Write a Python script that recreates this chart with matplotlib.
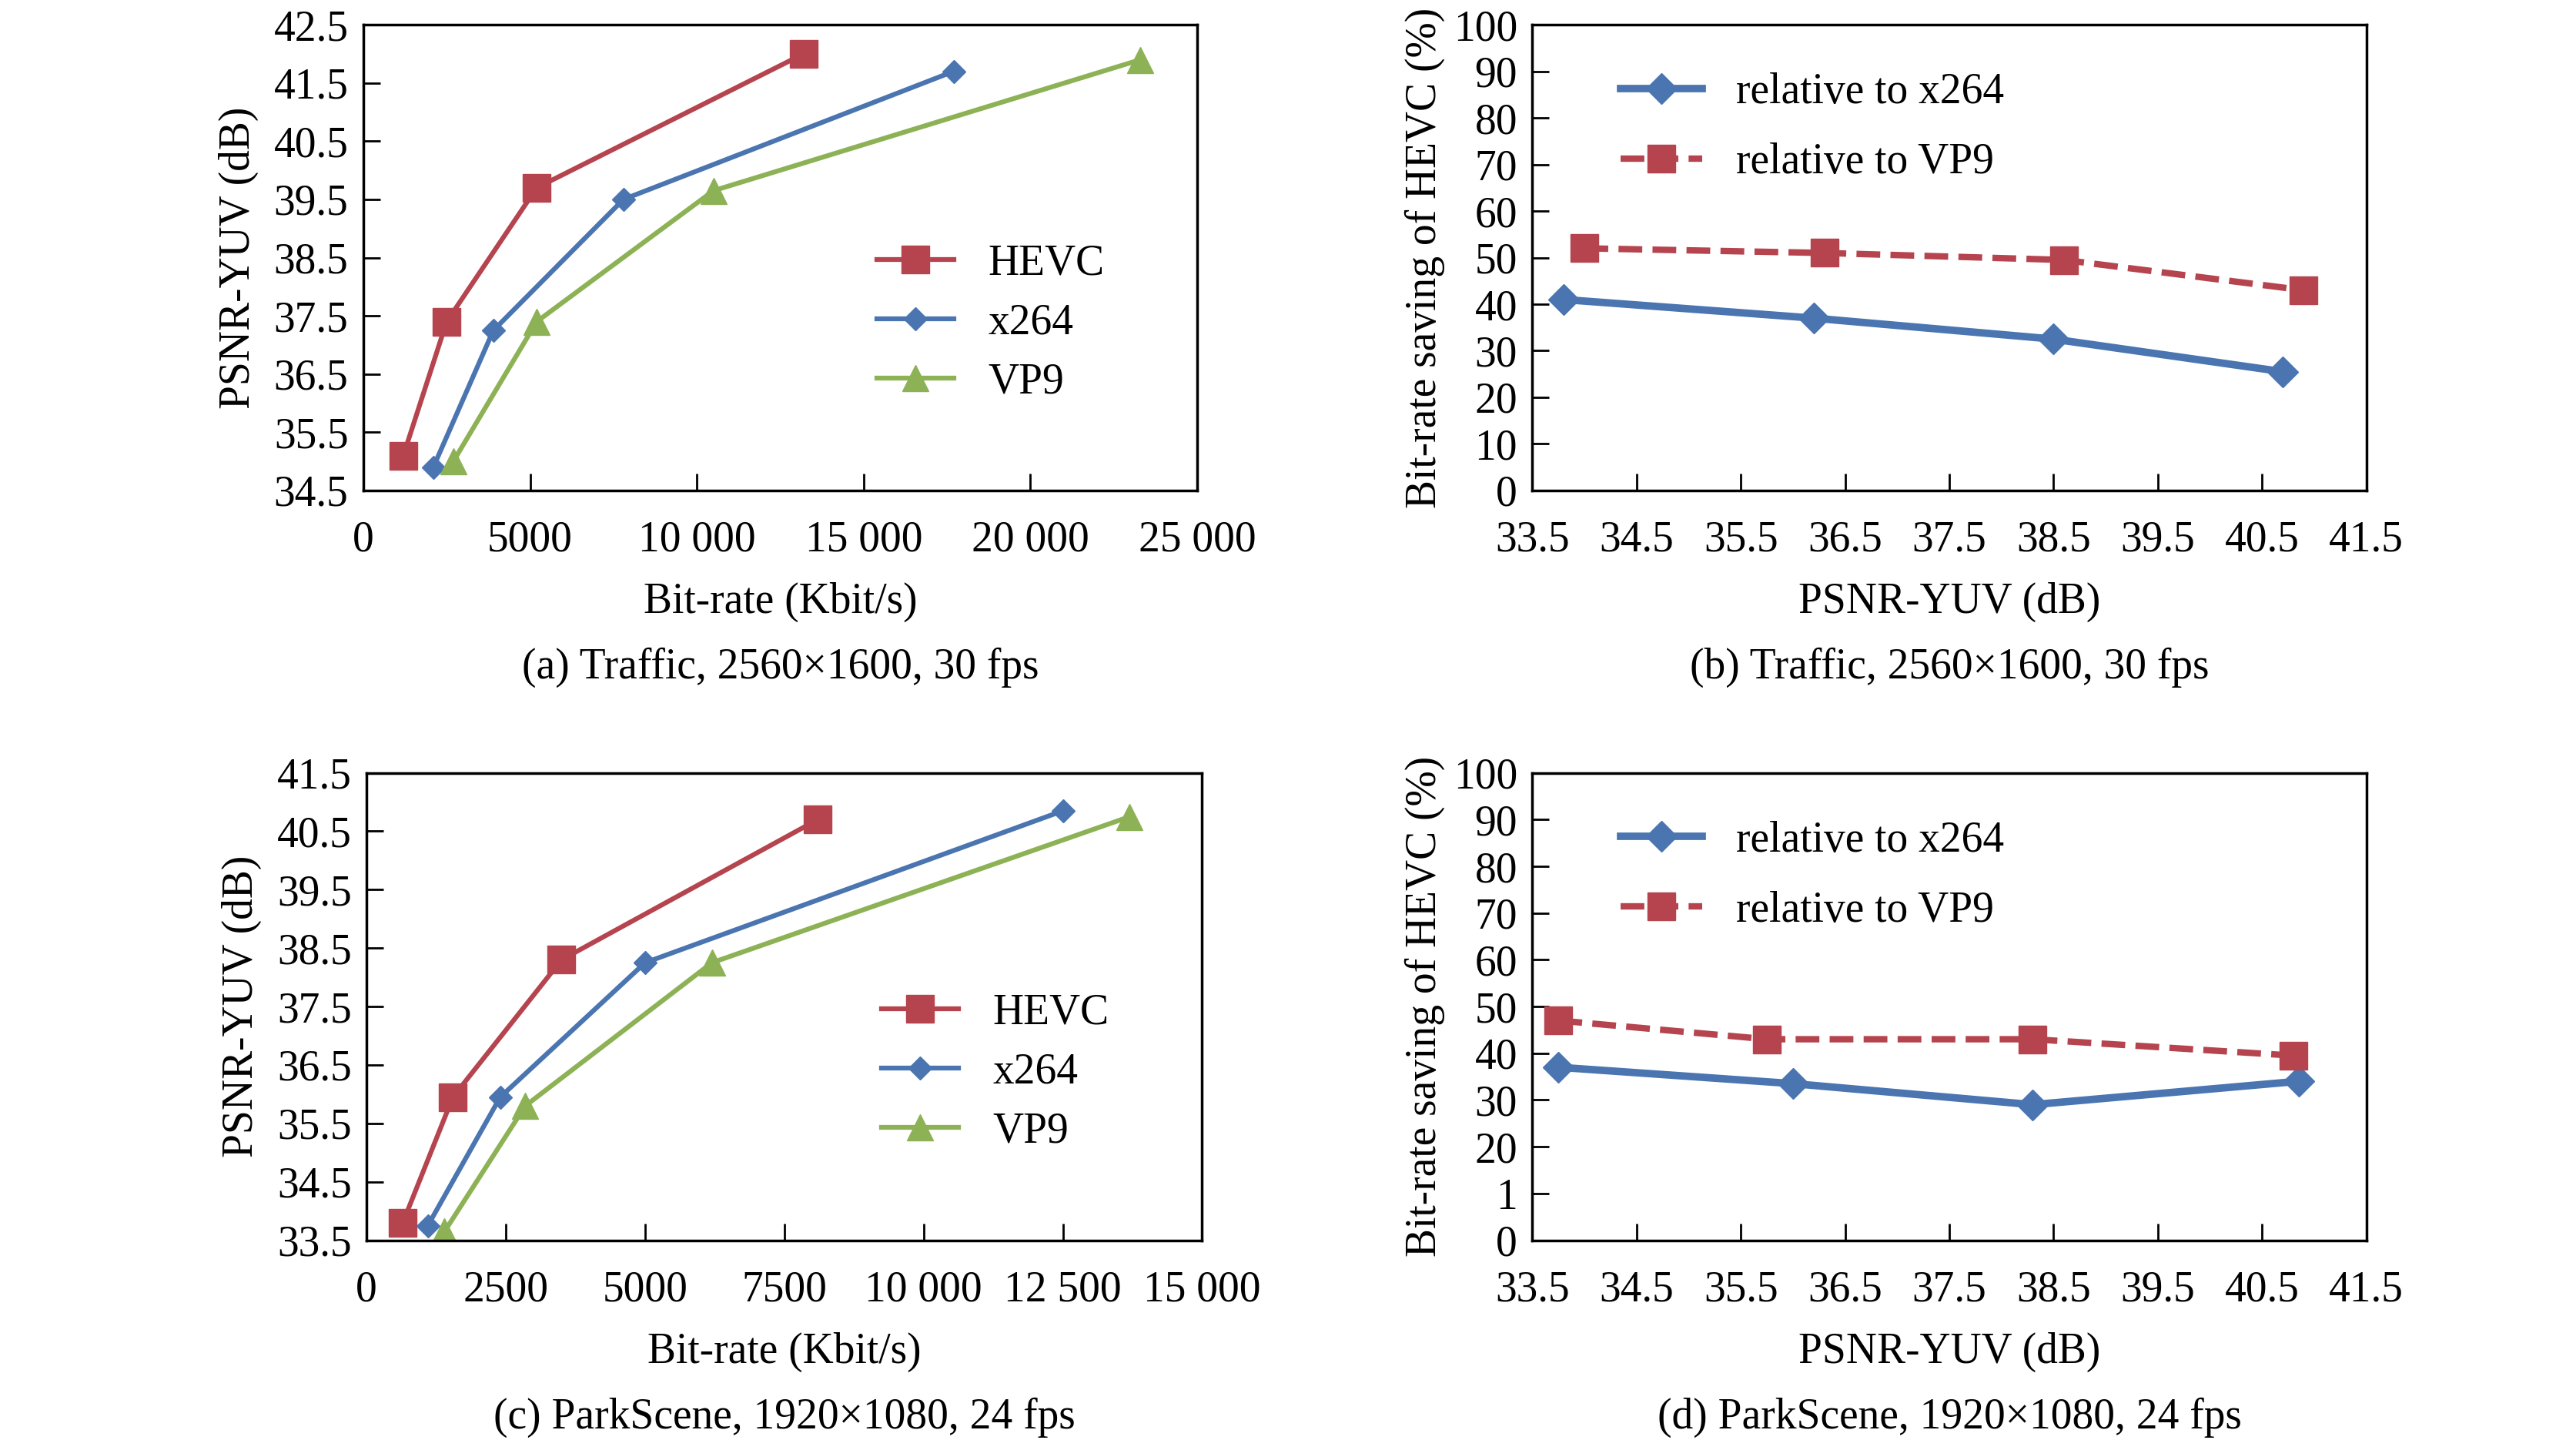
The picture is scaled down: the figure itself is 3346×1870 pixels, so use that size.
import numpy as np
import matplotlib.pyplot as plt

plt.rcParams['font.family'] = ['Liberation Serif', 'DejaVu Serif']
plt.rcParams['font.size'] = 40

RED = '#B5444E'
BLUE = '#4A75B0'
GREEN = '#8DB255'

# -- (a) Traffic rate curves
a_hevc_x = [1200, 2500, 5200, 13200]
a_hevc_y = [35.1, 37.4, 39.7, 42.0]
a_x264_x = [2100, 3900, 7800, 17700]
a_x264_y = [34.9, 37.25, 39.5, 41.7]
a_vp9_x = [2700, 5200, 10500, 23300]
a_vp9_y = [35.0, 37.4, 39.65, 41.9]

# -- (c) ParkScene rate curves
c_hevc_x = [650, 1550, 3500, 8100]
c_hevc_y = [33.8, 35.95, 38.3, 40.7]
c_x264_x = [1100, 2400, 5000, 12500]
c_x264_y = [33.75, 35.95, 38.25, 40.85]
c_vp9_x = [1400, 2850, 6200, 13700]
c_vp9_y = [33.65, 35.8, 38.25, 40.75]

# -- (b) Traffic bit-rate saving
b_x264_x = [33.8, 36.2, 38.5, 40.7]
b_x264_y = [41, 37, 32.5, 25.5]
b_vp9_x = [34.0, 36.3, 38.6, 40.9]
b_vp9_y = [52, 51, 49.5, 43]

# -- (d) ParkScene bit-rate saving
d_x264_x = [33.75, 36.0, 38.3, 40.85]
d_x264_y = [37, 33.5, 29, 34]
d_vp9_x = [33.75, 35.75, 38.3, 40.8]
d_vp9_y = [47, 43, 43, 39.5]

W, H = 1560, 872


def add_axes(fig, x0, x1, y0, y1):
    return fig.add_axes([x0 / W, 1 - y1 / H, (x1 - x0) / W, (y1 - y0) / H])


def style(ax):
    ax.tick_params(direction='in', length=16, width=2, pad=14)
    ax.tick_params(axis='x', pad=28)
    for s in ax.spines.values():
        s.set_linewidth(2.5)


def caption_and_label(ax, xlabel, caption):
    ax.text(0.5, -0.24, xlabel, transform=ax.transAxes, ha='center', va='center')
    ax.text(0.5, -0.38, caption, transform=ax.transAxes, ha='center', va='center')


def rate_plot(ax, data, xlim, xticks, xlabels, yticks, caption):
    (hx, hy), (xx, xy), (vx, vy) = data
    ax.plot(hx, hy, color=RED, lw=4.5, marker='s', ms=26, label='HEVC')
    ax.plot(xx, xy, color=BLUE, lw=4.5, marker='D', ms=15, label='x264')
    ax.plot(vx, vy, color=GREEN, lw=4.5, marker='^', ms=24, label='VP9')
    ax.set_xlim(*xlim)
    ax.set_ylim(yticks[0], yticks[-1])
    ax.set_xticks(xticks, xlabels)
    ax.set_yticks(yticks, [f'{t:.1f}' for t in yticks])
    ax.set_ylabel('PSNR-YUV (dB)', labelpad=14)
    caption_and_label(ax, 'Bit-rate (Kbit/s)', caption)
    ax.legend(loc='center left', bbox_to_anchor=(0.57, 0.36), frameon=False,
              handlelength=1.8, labelspacing=0.45, fontsize=40)
    style(ax)


def saving_plot(ax, data, ylabels, caption):
    (ax_x, ax_y), (vx, vy) = data
    ax.plot(ax_x, ax_y, color=BLUE, lw=7, marker='D', ms=20,
            label='relative to x264')
    ax.plot(vx, vy, color=RED, lw=6, ls='--', marker='s', ms=26,
            label='relative to VP9')
    ax.set_xlim(33.5, 41.5)
    ax.set_ylim(0, 100)
    ax.set_xticks(np.arange(33.5, 41.6, 1.0))
    ax.set_yticks(np.arange(0, 101, 10), ylabels)
    ax.set_ylabel('Bit-rate saving of HEVC (%)', labelpad=8)
    caption_and_label(ax, 'PSNR-YUV (dB)', caption)
    ax.legend(loc='upper left', bbox_to_anchor=(0.06, 0.98), frameon=False,
              handlelength=1.9, labelspacing=0.7, fontsize=40)
    style(ax)


fig = plt.figure(figsize=(33.46, 18.70), dpi=100)

ax_a = add_axes(fig, 220, 725, 15, 297)
rate_plot(ax_a, [(a_hevc_x, a_hevc_y), (a_x264_x, a_x264_y), (a_vp9_x, a_vp9_y)],
          (0, 25000), [0, 5000, 10000, 15000, 20000, 25000],
          ['0', '5000', '10 000', '15 000', '20 000', '25 000'],
          np.arange(34.5, 42.6, 1.0), '(a) Traffic, 2560×1600, 30 fps')

ax_c = add_axes(fig, 222, 728, 468, 751)
rate_plot(ax_c, [(c_hevc_x, c_hevc_y), (c_x264_x, c_x264_y), (c_vp9_x, c_vp9_y)],
          (0, 15000), [0, 2500, 5000, 7500, 10000, 12500, 15000],
          ['0', '2500', '5000', '7500', '10 000', '12 500', '15 000'],
          np.arange(33.5, 41.6, 1.0), '(c) ParkScene, 1920×1080, 24 fps')

ax_b = add_axes(fig, 928, 1433, 15, 297)
saving_plot(ax_b, [(b_x264_x, b_x264_y), (b_vp9_x, b_vp9_y)],
            [str(v) for v in range(0, 101, 10)], '(b) Traffic, 2560×1600, 30 fps')

ax_d = add_axes(fig, 928, 1433, 468, 751)
d_labels = ['0', '1', '20', '30', '40', '50', '60', '70', '80', '90', '100']
saving_plot(ax_d, [(d_x264_x, d_x264_y), (d_vp9_x, d_vp9_y)],
            d_labels, '(d) ParkScene, 1920×1080, 24 fps')

fig.savefig('out.png', dpi=100)
